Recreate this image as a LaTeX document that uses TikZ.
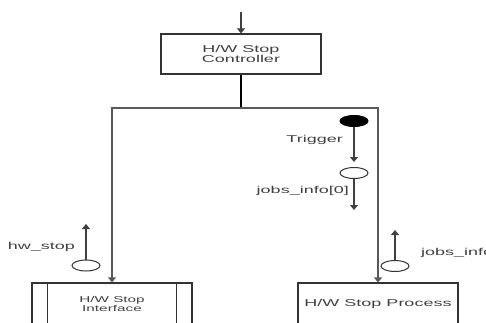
\documentclass[tikz,border=0pt]{standalone}
\usepackage{fontspec}
\newfontfamily\diagfont[FakeStretch=1.8]{Liberation Sans}
\usetikzlibrary{shapes.geometric, arrows.meta, positioning}
\tikzset{
    block/.style={draw, rectangle, minimum width=160pt, minimum height=40pt, inner sep=2pt, align=center, draw=black!80, line width=1.2pt, text=black!75, font={\diagfont\fontsize{10}{10.5}\selectfont}},
    subblock/.style={block, font={\diagfont\fontsize{8.5}{9.5}\selectfont}},
    token/.style={draw, ellipse, minimum width=28pt, minimum height=11pt, inner sep=0pt, draw=black!80, line width=1pt},
    trigger/.style={token, fill=black, draw=black},
    msg/.style={inner sep=0pt, text=black!75, font={\diagfont\fontsize{10}{10.5}\selectfont}},
    arrow/.style={-{Triangle[width=8pt,length=5pt]}, line width=1.1pt, draw=black!75},
    wire/.style={line width=1.2pt, draw=black!65}
}
\begin{document}
\begin{tikzpicture}[x=1pt, y=-1pt]
        \useasboundingbox (0,0) rectangle (486,322);

        % Bloecchi
        \node (ctrl) [block] at (241,54) {H/W Stop\\Controller};
        \node (iface) [subblock, minimum height=42pt] at (112,304) {H/W Stop\\Interface};
        \node (proc) [block, minimum height=42pt] at (378,304) {H/W Stop Process};
        \draw [line width=1.2pt, draw=black!80] ([xshift=16pt]iface.north west) -- ([xshift=16pt]iface.south west);
        \draw [line width=1.2pt, draw=black!80] ([xshift=-16pt]iface.north east) -- ([xshift=-16pt]iface.south east);

        % Ingresso e diramazione
        \coordinate (ingresso) at (241,12);
        \coordinate (split) at (241,108);
        \draw [arrow] (ingresso) -- (ctrl.north);
        \draw [line width=1.7pt] (ctrl.south) -- (split);
        \draw [arrow, wire] (split) -| (iface.north);
        \draw [arrow, wire] (split) -| (proc.north);

        % Trigger e messaggi
        \node (trig) [trigger] at (354,121) {};
        \node (info0) [token, below=40pt of trig] {};
        \coordinate (info0end) at (354,210);
        \draw [arrow, shorten >=5pt] (trig) -- (info0);
        \draw [arrow] (info0) -- (info0end);
        \node [msg, anchor=east] at (343,140) {Trigger};
        \node [msg, anchor=east] at (349,191) {jobs\_info[0]};

        \node (hwstop) [token] at (86,265.5) {};
        \coordinate (hwstopend) at (86,224);
        \draw [arrow] (hwstop) -- (hwstopend);
        \node [msg, anchor=east] at (75,247) {hw\_stop};

        \node (info) [token] at (395,266) {};
        \coordinate (infoend) at (395,230);
        \draw [arrow] (info) -- (infoend);
        \node [msg, anchor=west] at (421,253) {jobs\_info};

    \end{tikzpicture}
\end{document}
